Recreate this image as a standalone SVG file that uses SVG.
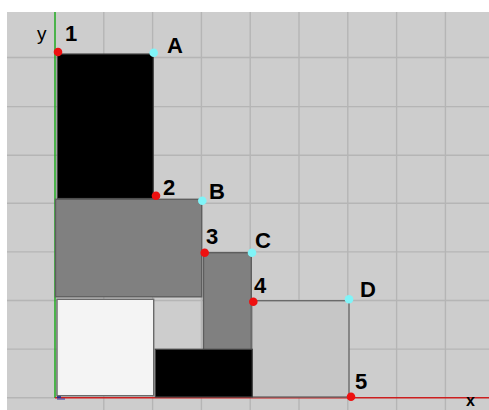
<svg xmlns="http://www.w3.org/2000/svg" width="489" height="410" viewBox="0 0 489 410">
<style>
.grid line{stroke:#b5b5b5;stroke-width:1.4}
.blk{fill:#000;stroke:#444;stroke-width:1.2}
.dg{fill:#808080;stroke:#5e5e5e;stroke-width:1.4}
.lg{fill:#c6c6c6;stroke:#6a6a6a;stroke-width:1.4}
.wh{fill:#f4f4f4;stroke:#6a6a6a;stroke-width:1.4}
.rp{fill:#ee1010}
.cp{fill:#80f4f8}
text{font-family:"Liberation Sans",Arial,sans-serif;font-weight:bold;font-size:22px;fill:#000}
</style>
<rect x="0" y="0" width="489" height="410" fill="#fff"/>
<rect x="7" y="12" width="482" height="398" fill="#cdcdcd"/>
<g class="grid">
<line x1="103.8" y1="12" x2="103.8" y2="410"/>
<line x1="152.6" y1="12" x2="152.6" y2="410"/>
<line x1="201.4" y1="12" x2="201.4" y2="410"/>
<line x1="250.2" y1="12" x2="250.2" y2="410"/>
<line x1="299" y1="12" x2="299" y2="410"/>
<line x1="347.8" y1="12" x2="347.8" y2="410"/>
<line x1="396.6" y1="12" x2="396.6" y2="410"/>
<line x1="445.4" y1="12" x2="445.4" y2="410"/>
<line x1="7" y1="349.1" x2="489" y2="349.1"/>
<line x1="7" y1="300.5" x2="489" y2="300.5"/>
<line x1="7" y1="251.9" x2="489" y2="251.9"/>
<line x1="7" y1="203.3" x2="489" y2="203.3"/>
<line x1="7" y1="155.2" x2="489" y2="155.2"/>
<line x1="7" y1="106.6" x2="489" y2="106.6"/>
<line x1="7" y1="57.5" x2="489" y2="57.5"/>
<line x1="7" y1="397.7" x2="55" y2="397.7"/>
</g>
<g id="axes">
<line x1="55" y1="12" x2="55" y2="398" stroke="#1faa1f" stroke-width="1.5"/>
<line x1="55" y1="397.7" x2="489" y2="397.7" stroke="#cc1f1f" stroke-width="1.6"/>
<rect x="57" y="396" width="4" height="2" fill="#2a2a90"/>
<line x1="57" y1="399" x2="65" y2="399" stroke="#3030a0" stroke-width="1"/>
<text x="37" y="40" style="font-size:19px;font-weight:normal">y</text>
<text x="466" y="406" style="font-size:16px">x</text>
</g>
<g id="rectA"><rect class="blk" x="57.3" y="54" width="96" height="144.5"/></g>
<g id="rectB"><rect class="dg" x="55.5" y="199.3" width="146.2" height="97.5"/></g>
<g id="rectC"><rect class="dg" x="203.5" y="252.7" width="47.8" height="97"/></g>
<g id="rectD"><rect class="lg" x="251.7" y="300.7" width="97.3" height="96.3"/></g>
<g id="rectW"><rect class="wh" x="57" y="299.3" width="96.7" height="96.4"/></g>
<g id="rectK"><rect class="blk" x="155.3" y="349.3" width="97" height="47.7"/></g>
<g id="p1"><circle class="rp" cx="58" cy="52" r="4.3"/><text x="65" y="41">1</text></g>
<g id="pA"><circle class="cp" cx="153.7" cy="52.7" r="4.3"/><text x="167" y="53">A</text></g>
<g id="p2"><circle class="rp" cx="156" cy="195.7" r="4.3"/><text x="163" y="195">2</text></g>
<g id="pB"><circle class="cp" cx="202.3" cy="200.7" r="4.3"/><text x="209" y="199">B</text></g>
<g id="p3"><circle class="rp" cx="204.7" cy="252.7" r="4.3"/><text x="206" y="244">3</text></g>
<g id="pC"><circle class="cp" cx="252" cy="252.7" r="4.3"/><text x="255" y="248">C</text></g>
<g id="p4"><circle class="rp" cx="253.3" cy="301.7" r="4.3"/><text x="254" y="293">4</text></g>
<g id="pD"><circle class="cp" cx="349" cy="299.3" r="4.3"/><text x="360" y="297">D</text></g>
<g id="p5"><circle class="rp" cx="351" cy="396.7" r="4.3"/><text x="355" y="389">5</text></g>
<g id="connectors"/>
</svg>
